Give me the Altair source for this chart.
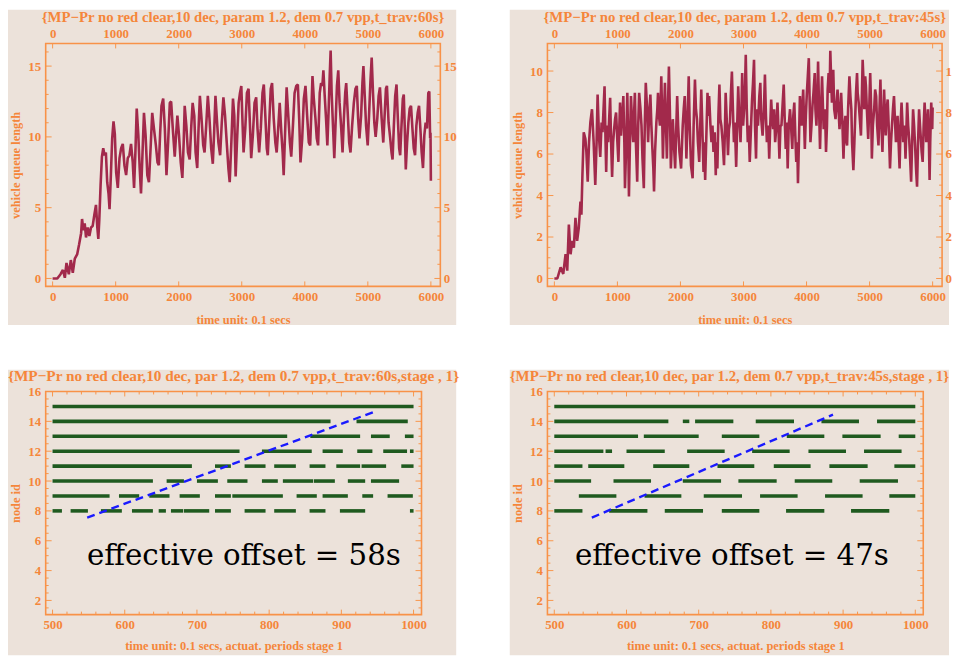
import altair as alt
import pandas as pd

BG = "#ece2da"
TXT = "#f5863a"
FRAME = "#f89248"
TICK = "#f8964c"
LINE = "#a2294b"
GREEN = "#1f5a1f"
BLUE = "#1a1aff"
FONT = "Liberation Serif"

# ---------------- data ----------------
tl_title = "{MP\u2212Pr no red clear,10 dec, param 1.2, dem 0.7 vpp,t_trav:60s}"
tr_title = "{MP\u2212Pr no red clear,10 dec, param 1.2, dem 0.7 vpp,t_trav:45s}"
bl_title = "{MP\u2212Pr no red clear,10 dec, par 1.2, dem 0.7 vpp,t_trav:60s,stage , 1}"
br_title = "{MP\u2212Pr no red clear,10 dec, par 1.2, dem 0.7 vpp,t_trav:45s,stage , 1}"

top_x_title = "time unit: 0.1 secs"
top_y_title = "vehicle queue length"
bot_x_title = "time unit: 0.1 secs, actuat. periods stage 1"
bot_y_title = "node id"

# (time, queue length)
tl_points = [
    (0, 0), (74, 0), (126, 0.3), (163, 0.6), (194, 0.05), (220, 1.1), (257, 0.3), (289, 1.3), (320, 0.4),
    (352, 1.4), (389, 1.7), (420, 2.4), (452, 3.2), (467, 4.2), (488, 3.4), (509, 3.9), (530, 2.9),
    (557, 3.6), (583, 3.0), (609, 3.6), (635, 3.7), (662, 4.5), (688, 5.2), (709, 3.6), (725, 2.8),
    (740, 4.1), (761, 6.6), (782, 8.6), (803, 9.2), (824, 8.7), (845, 8.9), (866, 6.8), (887, 6.0),
    (903, 4.9), (924, 7.3), (945, 9.9), (966, 11.1), (987, 10.2), (1008, 7.5), (1034, 6.4), (1061, 8.5),
    (1087, 9.2), (1113, 9.5), (1139, 8.0), (1166, 7.3), (1192, 8.5), (1218, 8.7), (1244, 9.5), (1271, 8.2),
    (1292, 6.4), (1313, 8.9), (1334, 12.0), (1360, 10.1), (1381, 7.8), (1402, 6.0), (1423, 8.5), (1449, 11.7),
    (1475, 10.1), (1502, 7.3), (1528, 6.8), (1554, 9.2), (1580, 11.7), (1607, 10.6), (1638, 9.4), (1664, 8.2),
    (1685, 8.0), (1706, 10.3), (1727, 12.2), (1754, 12.7), (1780, 10.6), (1806, 7.3), (1832, 9.6), (1859, 12.4),
    (1880, 12.5), (1906, 10.6), (1937, 8.6), (1958, 10.1), (1979, 11.5), (2005, 10.1), (2032, 8.2), (2058, 7.1),
    (2079, 9.6), (2095, 12.2), (2121, 10.8), (2147, 8.9), (2174, 8.4), (2200, 10.8), (2221, 12.4), (2247, 11.5),
    (2268, 8.9), (2294, 7.8), (2315, 10.6), (2336, 12.9), (2362, 11.3), (2389, 9.4), (2410, 8.9), (2436, 10.8),
    (2462, 12.9), (2488, 11.3), (2515, 9.2), (2541, 8.1), (2562, 10.3), (2583, 12.9), (2609, 11.0), (2630, 9.6),
    (2657, 8.7), (2683, 11.0), (2709, 12.8), (2735, 11.5), (2762, 9.6), (2788, 7.8), (2809, 6.8), (2835, 9.6),
    (2861, 12.7), (2882, 11.5), (2903, 7.2), (2924, 9.6), (2951, 12.4), (2972, 13.1), (2993, 13.6), (3014, 10.8),
    (3029, 8.9), (3056, 10.6), (3082, 13.1), (3108, 13.4), (3129, 11.0), (3150, 8.5), (3176, 10.1), (3203, 12.4),
    (3229, 12.8), (3250, 10.6), (3276, 8.9), (3302, 10.6), (3329, 13.1), (3350, 13.7), (3376, 11.3), (3397, 9.2),
    (3413, 8.7), (3439, 11.3), (3460, 13.4), (3481, 13.8), (3507, 11.3), (3533, 9.6), (3554, 8.9), (3581, 10.8),
    (3602, 12.4), (3628, 10.3), (3649, 8.9), (3665, 7.3), (3686, 10.1), (3712, 13.5), (3738, 11.5), (3764, 9.6),
    (3785, 8.6), (3812, 10.8), (3838, 13.1), (3864, 13.6), (3890, 13.7), (3911, 11.3), (3932, 8.2), (3959, 9.9),
    (3985, 12.7), (4011, 13.6), (4037, 11.5), (4064, 9.6), (4085, 9.4), (4106, 12.0), (4122, 14.3), (4143, 12.7),
    (4169, 11.3), (4190, 9.9), (4211, 9.4), (4237, 13.1), (4258, 13.8), (4279, 13.6), (4295, 14.7), (4316, 12.9),
    (4337, 11.3), (4358, 9.4), (4379, 12.0), (4395, 14.3), (4410, 16.1), (4426, 13.1), (4447, 10.8), (4468, 8.5),
    (4489, 11.0), (4510, 13.6), (4531, 14.7), (4552, 12.4), (4578, 10.6), (4599, 8.9), (4620, 11.3), (4641, 13.1),
    (4657, 13.8), (4683, 11.5), (4704, 9.6), (4725, 8.9), (4751, 10.8), (4778, 12.4), (4804, 13.4), (4825, 13.6),
    (4846, 11.3), (4867, 9.9), (4893, 11.5), (4914, 13.8), (4930, 15.0), (4951, 12.9), (4972, 10.8), (4998, 9.4),
    (5019, 11.5), (5040, 13.8), (5061, 15.6), (5082, 13.1), (5103, 11.0), (5124, 10.0), (5150, 11.3), (5171, 12.9),
    (5192, 13.5), (5219, 11.3), (5245, 9.6), (5266, 11.5), (5287, 13.4), (5303, 13.6), (5329, 11.0), (5355, 9.9),
    (5376, 8.9), (5392, 8.4), (5413, 10.8), (5434, 12.9), (5455, 13.7), (5476, 11.3), (5497, 9.2), (5513, 8.7),
    (5534, 10.8), (5555, 12.7), (5570, 13.0), (5586, 10.6), (5602, 7.7), (5623, 9.6), (5643, 11.0), (5664, 12.0),
    (5685, 12.2), (5707, 10.6), (5728, 9.2), (5749, 8.7), (5770, 10.8), (5791, 11.7), (5812, 12.2), (5833, 10.6),
    (5854, 8.9), (5875, 7.8), (5896, 10.1), (5917, 11.0), (5938, 10.6), (5959, 13.1), (5975, 13.2), (5988, 9.9),
    (5994, 10.3), (6000, 6.9),
]

# (time, queue length)
tr_points = [
    (0, 0), (47, 0), (99, 0.54), (141, 0.22), (178, 1.17), (204, 0.38), (230, 2.6), (257, 1.17), (283, 1.81),
    (309, 1.49), (335, 2.92), (361, 1.81), (387, 2.44), (414, 3.71), (429, 3.08), (445, 4.98), (466, 7.05),
    (492, 6.73), (508, 6.1), (529, 4.67), (550, 6.57), (571, 7.52), (597, 8.16), (623, 6.57), (649, 4.51),
    (670, 6.57), (686, 8.87), (707, 6.89), (728, 5.86), (749, 7.52), (764, 7.05), (780, 8.16), (796, 9.27),
    (812, 6.57), (822, 5.14), (838, 7.37), (853, 6.57), (869, 7.68), (885, 8.71), (900, 6.57), (916, 4.9),
    (932, 6.57), (948, 7.2), (963, 7.68), (979, 8.0), (1000, 6.57), (1016, 5.62), (1031, 7.37), (1042, 8.48),
    (1057, 6.89), (1068, 7.52), (1084, 8.16), (1094, 8.79), (1110, 6.57), (1120, 4.35), (1141, 6.57),
    (1157, 8.95), (1173, 6.25), (1183, 3.95), (1199, 6.57), (1215, 8.79), (1235, 7.37), (1251, 6.57),
    (1267, 8.16), (1277, 8.95), (1293, 6.57), (1314, 4.67), (1330, 7.37), (1345, 8.95), (1366, 8.16),
    (1382, 7.37), (1398, 5.78), (1419, 4.35), (1434, 7.37), (1450, 9.43), (1471, 8.16), (1487, 6.57),
    (1502, 7.84), (1523, 8.87), (1539, 7.37), (1555, 6.25), (1570, 5.3), (1581, 4.19), (1597, 6.1),
    (1618, 7.52), (1633, 8.16), (1644, 8.95), (1660, 7.84), (1675, 7.37), (1686, 8.48), (1696, 9.75),
    (1712, 7.52), (1722, 5.78), (1738, 7.84), (1754, 9.43), (1769, 7.52), (1785, 5.78), (1801, 8.16),
    (1817, 10.22), (1832, 8.16), (1848, 5.3), (1864, 6.57), (1879, 7.68), (1895, 6.57), (1916, 5.3),
    (1932, 7.05), (1948, 8.79), (1963, 7.37), (1984, 6.1), (2010, 5.3), (2026, 6.57), (2036, 7.37),
    (2052, 8.16), (2068, 8.79), (2084, 7.2), (2094, 5.78), (2115, 7.84), (2131, 9.75), (2146, 7.52),
    (2167, 5.46), (2193, 4.83), (2209, 7.37), (2230, 9.59), (2246, 8.16), (2262, 7.68), (2277, 6.57),
    (2298, 5.62), (2314, 7.37), (2330, 9.11), (2345, 7.52), (2366, 5.14), (2377, 6.57), (2392, 4.75),
    (2408, 6.57), (2429, 8.95), (2445, 7.84), (2455, 8.79), (2476, 7.37), (2492, 6.57), (2508, 7.37),
    (2524, 6.1), (2544, 7.05), (2560, 4.98), (2570, 6.57), (2586, 5.3), (2602, 7.84), (2618, 9.35),
    (2633, 7.68), (2649, 7.37), (2670, 6.57), (2691, 5.46), (2707, 7.37), (2717, 8.95), (2738, 7.37),
    (2754, 5.94), (2769, 7.2), (2785, 7.52), (2801, 8.95), (2816, 9.98), (2832, 8.16), (2848, 6.57),
    (2863, 7.52), (2884, 5.38), (2900, 7.37), (2916, 9.27), (2932, 7.84), (2953, 6.57), (2968, 8.16),
    (2979, 9.9), (2994, 7.37), (3010, 8.16), (3026, 9.43), (3036, 10.78), (3052, 8.16), (3068, 6.57),
    (3083, 7.37), (3099, 5.62), (3120, 7.37), (3136, 8.63), (3151, 9.43), (3167, 10.54), (3183, 7.37),
    (3199, 5.78), (3214, 8.16), (3230, 7.37), (3251, 8.79), (3267, 9.43), (3282, 7.68), (3303, 6.89),
    (3324, 8.16), (3340, 9.83), (3356, 7.84), (3371, 6.57), (3392, 7.37), (3408, 5.78), (3424, 7.37),
    (3439, 8.63), (3455, 7.68), (3471, 7.2), (3486, 8.16), (3502, 6.57), (3523, 7.37), (3539, 8.48),
    (3555, 7.2), (3570, 5.78), (3586, 7.37), (3602, 7.37), (3622, 8.48), (3638, 9.35), (3654, 7.68),
    (3670, 6.25), (3685, 7.52), (3701, 5.3), (3717, 7.37), (3738, 8.16), (3754, 7.37), (3774, 6.25),
    (3790, 7.84), (3806, 8.48), (3822, 6.89), (3837, 5.62), (3853, 6.57), (3864, 4.59), (3879, 6.57),
    (3895, 8.79), (3911, 7.68), (3921, 7.37), (3937, 8.48), (3947, 9.11), (3963, 7.37), (3973, 6.25),
    (3989, 7.84), (4005, 8.95), (4020, 9.75), (4036, 10.62), (4052, 8.16), (4062, 6.57), (4078, 7.37),
    (4094, 8.32), (4110, 8.95), (4130, 9.9), (4141, 8.16), (4157, 7.37), (4172, 8.95), (4183, 10.46),
    (4199, 8.16), (4214, 6.25), (4230, 8.16), (4246, 9.75), (4261, 8.16), (4272, 7.2), (4293, 8.16),
    (4309, 6.1), (4324, 7.37), (4335, 9.11), (4350, 9.9), (4366, 8.95), (4377, 10.98), (4392, 9.43),
    (4403, 8.48), (4413, 9.43), (4424, 10.06), (4439, 8.16), (4460, 7.68), (4476, 8.48), (4492, 9.11),
    (4507, 8.16), (4523, 7.2), (4539, 8.16), (4549, 8.95), (4570, 7.37), (4586, 5.78), (4602, 7.37),
    (4617, 7.84), (4633, 6.57), (4643, 6.41), (4659, 8.16), (4680, 9.75), (4696, 8.79), (4711, 8.16),
    (4722, 6.57), (4743, 5.22), (4759, 6.57), (4769, 7.52), (4785, 8.95), (4801, 9.9), (4811, 8.95),
    (4827, 8.48), (4842, 7.84), (4863, 6.89), (4879, 8.95), (4890, 10.54), (4905, 9.43), (4916, 8.16),
    (4931, 9.75), (4942, 9.27), (4957, 8.16), (4978, 6.73), (4994, 8.16), (5010, 9.9), (5025, 8.16),
    (5036, 5.78), (5052, 7.37), (5073, 8.16), (5088, 9.11), (5104, 8.79), (5120, 7.37), (5141, 6.41),
    (5157, 8.16), (5172, 9.59), (5188, 7.37), (5204, 6.1), (5219, 7.84), (5230, 9.11), (5245, 7.84),
    (5256, 6.89), (5272, 8.16), (5287, 8.63), (5303, 7.37), (5324, 5.3), (5340, 6.57), (5355, 7.37),
    (5371, 8.16), (5387, 8.79), (5402, 7.68), (5418, 6.57), (5434, 7.37), (5444, 7.84), (5460, 6.57),
    (5476, 5.3), (5491, 7.37), (5507, 8.48), (5523, 7.37), (5533, 6.57), (5554, 7.37), (5570, 5.78),
    (5586, 7.37), (5596, 8.48), (5612, 7.37), (5628, 6.73), (5643, 5.78), (5659, 4.67), (5675, 6.57),
    (5690, 8.16), (5706, 7.37), (5722, 6.41), (5737, 5.3), (5753, 4.43), (5769, 6.57), (5785, 8.16),
    (5800, 7.37), (5810, 6.89), (5826, 6.1), (5842, 5.62), (5858, 7.37), (5873, 8.48), (5889, 7.37),
    (5899, 6.57), (5915, 7.37), (5926, 8.16), (5941, 6.57), (5952, 4.75), (5962, 6.57), (5978, 8.48),
    (5994, 7.2), (6000, 8.24),
]

# node id -> green periods (start, end) in time units
bl_segments = {
    15: [(500, 1000)],
    14: [(500, 885), (921, 992)],
    13: [(500, 825), (857, 926), (941, 967), (988, 1000)],
    12: [(500, 759), (790, 859), (874, 902), (922, 943), (958, 991), (995, 1000)],
    11: [(500, 693), (725, 747), (766, 795), (807, 837), (856, 878), (893, 926), (928, 962), (983, 1000)],
    10: [(500, 639), (658, 682), (700, 729), (742, 770), (790, 812), (819, 861), (862, 891), (909, 933), (941, 980)],
    9: [(500, 579), (592, 620), (634, 662), (676, 704), (725, 747), (749, 819), (838, 866), (874, 909),
        (929, 944), (964, 999)],
    8: [(500, 513), (525, 549), (567, 596), (610, 639), (647, 657), (664, 681), (682, 717), (725, 747),
        (766, 795), (807, 837), (856, 878), (898, 933), (995, 1000)],
}
br_segments = {
    15: [(500, 1000)],
    14: [(500, 658), (678, 687), (695, 748), (779, 832), (870, 922), (947, 1000)],
    13: [(500, 616), (624, 700), (732, 784), (822, 874), (899, 952), (977, 1000)],
    12: [(500, 568), (571, 580), (600, 653), (684, 736), (774, 826), (852, 904), (929, 981)],
    11: [(500, 539), (547, 597), (637, 687), (726, 777), (804, 855), (881, 934), (971, 1000)],
    10: [(500, 551), (582, 634), (678, 731), (755, 808), (833, 885), (923, 976)],
    9: [(534, 586), (625, 676), (707, 760), (785, 837), (875, 927), (964, 1000)],
    8: [(500, 539), (576, 629), (653, 706), (732, 784), (821, 874), (911, 964)],
}
bl_offset_line = [(548, 7.55), (946, 14.65)]
br_offset_line = [(552, 7.55), (886, 14.45)]
bl_note = ("effective offset = 58s", 765, 4.4)
br_note = ("effective offset = 47s", 746, 4.4)

top_x_ticks = [0, 1000, 2000, 3000, 4000, 5000, 6000]
tl_y_ticks = [0, 5, 10, 15]
tr_y_ticks = [0, 2, 4, 6, 8, 10]
bot_x_ticks = [500, 600, 700, 800, 900, 1000]
bot_y_ticks = [2, 4, 6, 8, 10, 12, 14, 16]

tl_y_minor = [v for v in range(0, 17) if v not in tl_y_ticks]
tr_y_minor = [v / 2 for v in range(0, 23) if v / 2 not in tr_y_ticks]
bot_x_minor = [v for v in range(500, 1001, 20) if v not in bot_x_ticks]
bot_y_minor = [v / 2 for v in range(3, 33) if v / 2 not in bot_y_ticks]

ONE = pd.DataFrame({"k": [0]})
AX = dict(ticks=False, domain=False, grid=False, zindex=1)

TOP_W, TOP_H = 398, 245
BOT_W, BOT_H = 379, 225


def tick_layer(values, side, length, xs, ys, w, h, axis=None):
    df = pd.DataFrame({"v": values})
    base = alt.Chart(df).mark_rule(color=TICK, strokeWidth=1)
    if side in ("top", "bottom"):
        pos = alt.X("v:Q", scale=xs, axis=axis)
        if side == "top":
            return base.encode(x=pos, y=alt.value(0), y2=alt.value(length))
        return base.encode(x=pos, y=alt.value(h - length), y2=alt.value(h))
    pos = alt.Y("v:Q", scale=ys, axis=axis)
    if side == "left":
        return base.encode(y=pos, x=alt.value(0), x2=alt.value(length))
    return base.encode(y=pos, x=alt.value(w - length), x2=alt.value(w))


def panel(w, h, ext, title, tsize, tx, ty, talign, ticks, content, tlimit=0):
    bg = alt.Chart(ONE).mark_rect(color=BG).encode(
        x=alt.value(-ext[0]), x2=alt.value(w + ext[1]),
        y=alt.value(-ext[2]), y2=alt.value(h + ext[3]))
    frame = alt.Chart(ONE).mark_rect(filled=False, stroke=FRAME, strokeWidth=1.6).encode(
        x=alt.value(0), x2=alt.value(w), y=alt.value(0), y2=alt.value(h))
    tprops = dict(font=FONT, fontSize=tsize, fontWeight="bold", color=TXT, align=talign, baseline="alphabetic")
    if tlimit:
        tprops.update(limit=tlimit, ellipsis=" ")
    ttl = alt.Chart(pd.DataFrame({"t": [title]})).mark_text(**tprops).encode(
        x=alt.value(tx), y=alt.value(ty), text="t:N")
    return alt.layer(bg, *ticks, *content, frame, ttl).properties(width=w, height=h).resolve_axis(
        x="independent", y="independent")


def top_panel(points, ydom, yticks, yminor, right_expr=None):
    xs = alt.Scale(domain=[-110, 6150], nice=False, zero=False)
    ys = alt.Scale(domain=ydom, nice=False, zero=False)
    df = pd.DataFrame(points, columns=["t", "q"])
    line = alt.Chart(df).mark_line(color=LINE, strokeWidth=2.6, strokeJoin="bevel").encode(
        x=alt.X("t:Q", scale=xs, axis=alt.Axis(orient="bottom", title=top_x_title, values=top_x_ticks,
                                               format="d", labelPadding=4, titlePadding=10, **AX)),
        y=alt.Y("q:Q", scale=ys, axis=alt.Axis(orient="left", title=top_y_title, values=yticks,
                                               format="d", labelPadding=5, titlePadding=5, **AX)),
    )
    right_axis = dict(orient="right", title=None, values=yticks, format="d", labelPadding=3, **AX)
    if right_expr:
        right_axis["labelExpr"] = right_expr
    ticks = [
        tick_layer(top_x_ticks, "top", 5, xs, ys, TOP_W, TOP_H,
                   axis=alt.Axis(orient="top", title=None, values=top_x_ticks, format="d", labelPadding=3, **AX)),
        tick_layer(top_x_ticks, "bottom", 5, xs, ys, TOP_W, TOP_H),
        tick_layer(yticks, "left", 6, xs, ys, TOP_W, TOP_H),
        tick_layer(yminor, "left", 3, xs, ys, TOP_W, TOP_H),
        tick_layer(yticks, "right", 6, xs, ys, TOP_W, TOP_H, axis=alt.Axis(**right_axis)),
        tick_layer(yminor, "right", 3, xs, ys, TOP_W, TOP_H),
    ]
    return ticks, [line]


def bottom_panel(segments, offset_line, note):
    xs = alt.Scale(domain=[490.5, 1011], nice=False, zero=False)
    ys = alt.Scale(domain=[1.05, 16], nice=False, zero=False)
    rows = [(node, s, e) for node, segs in segments.items() for s, e in segs]
    df = pd.DataFrame(rows, columns=["node", "s", "e"])
    bars = alt.Chart(df).mark_rule(color=GREEN, strokeWidth=3.6).encode(
        x=alt.X("s:Q", scale=xs, axis=alt.Axis(orient="bottom", title=bot_x_title, values=bot_x_ticks,
                                               format="d", labelPadding=4, titlePadding=8, **AX)),
        x2="e:Q",
        y=alt.Y("node:Q", scale=ys, axis=alt.Axis(orient="left", title=bot_y_title, values=bot_y_ticks,
                                                  format="d", labelPadding=5, titlePadding=5, **AX)),
    )
    ldf = pd.DataFrame(offset_line, columns=["t", "n"])
    dash = alt.Chart(ldf).mark_line(color=BLUE, strokeWidth=2.4, strokeDash=[8, 5]).encode(
        x=alt.X("t:Q", scale=xs, axis=None), y=alt.Y("n:Q", scale=ys, axis=None))
    ndf = pd.DataFrame([note], columns=["label", "t", "n"])
    txt = alt.Chart(ndf).mark_text(font="DejaVu Serif", fontSize=29.5, color="black",
                                   align="center", baseline="alphabetic").encode(
        x=alt.X("t:Q", scale=xs, axis=None), y=alt.Y("n:Q", scale=ys, axis=None), text="label:N")
    ticks = [
        tick_layer(bot_x_ticks, "top", 5, xs, ys, BOT_W, BOT_H),
        tick_layer(bot_x_minor, "top", 3, xs, ys, BOT_W, BOT_H),
        tick_layer(bot_x_ticks, "bottom", 5, xs, ys, BOT_W, BOT_H),
        tick_layer(bot_x_minor, "bottom", 3, xs, ys, BOT_W, BOT_H),
        tick_layer(bot_y_ticks, "left", 6, xs, ys, BOT_W, BOT_H),
        tick_layer(bot_y_minor, "left", 3, xs, ys, BOT_W, BOT_H),
        tick_layer(bot_y_ticks, "right", 6, xs, ys, BOT_W, BOT_H),
        tick_layer(bot_y_minor, "right", 3, xs, ys, BOT_W, BOT_H),
    ]
    return ticks, [bars, dash, txt]


t1, c1 = top_panel(tl_points, [-0.56, 16.6], tl_y_ticks, tl_y_minor)
tl = panel(TOP_W, TOP_H, (39, 16, 34, 39), tl_title, 14.9, TOP_W / 2, -22, "center", t1, c1)

t2, c2 = top_panel(tr_points, [-0.38, 11.33], tr_y_ticks, tr_y_minor,
                   right_expr="datum.value == 10 ? '1' : datum.label")
tr = panel(TOP_W, TOP_H, (38, 7, 34, 39), tr_title, 14.9, TOP_W / 2, -22, "center", t2, c2)

t3, c3 = bottom_panel(bl_segments, bl_offset_line, bl_note)
bl = panel(BOT_W, BOT_H, (39, 35, 22, 41), bl_title, 15.4, BOT_W / 2, -11, "center", t3, c3)

t4, c4 = bottom_panel(br_segments, br_offset_line, br_note)
br = panel(BOT_W, BOT_H, (38, 26, 22, 41), br_title, 15.0, -38, -11, "left", t4, c4, tlimit=445)

chart = alt.concat(
    tl, tr, bl, br, columns=2,
    spacing={"row": 106, "column": 108},
    bounds="flush",
    padding={"left": -1, "top": -1, "right": 0, "bottom": 0},
    background="white",
).configure_view(stroke=None).configure_axis(
    labelFont=FONT, labelFontWeight="bold", labelColor=TXT, labelFontSize=13,
    titleFont=FONT, titleFontWeight="bold", titleColor=TXT, titleFontSize=12.5,
)

chart.save("out.html", embed_options={"renderer": "svg", "actions": False})
